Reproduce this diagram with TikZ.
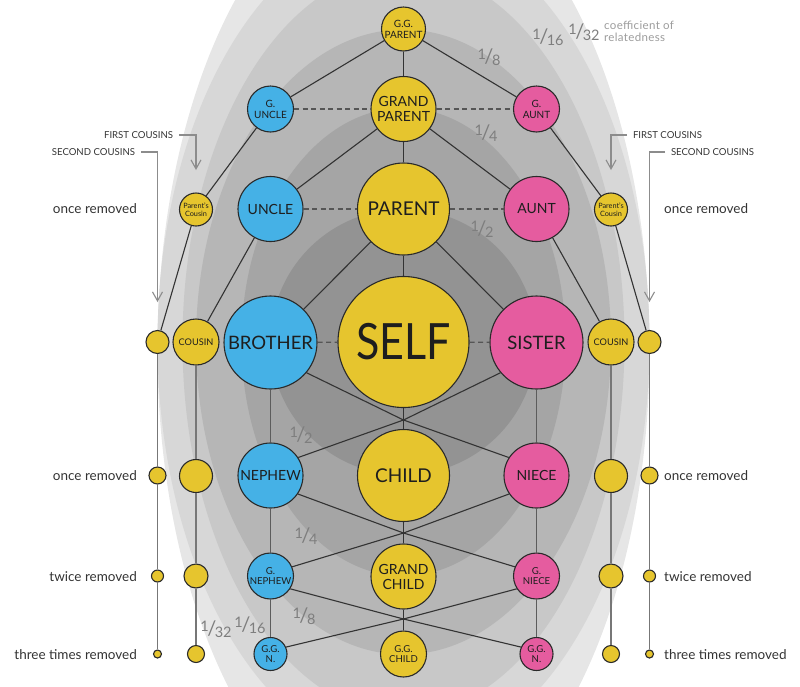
\documentclass[tikz,border=0pt]{standalone}
\usepackage{fontspec}
\setmainfont{Lato}
\usetikzlibrary{arrows.meta}
\definecolor{yel}{HTML}{E6C52E}
\definecolor{blu}{HTML}{45B1E6}
\definecolor{pnk}{HTML}{E55C9F}
\definecolor{cdark}{HTML}{2A2A2A}
\definecolor{ctext}{HTML}{1E1E1E}
\definecolor{cline}{HTML}{333333}
\definecolor{cvert}{HTML}{5C5C5C}
\definecolor{ccol}{HTML}{777777}
\definecolor{cdash}{HTML}{555555}
\definecolor{cann}{HTML}{8C8C8C}
\definecolor{cfrac}{HTML}{7E7E7E}
\definecolor{ccoef}{HTML}{9C9C9C}
\definecolor{bA}{HTML}{E6E6E6}
\definecolor{bB}{HTML}{D7D7D7}
\definecolor{bC}{HTML}{C8C8C8}
\definecolor{bD}{HTML}{B6B6B6}
\definecolor{bE}{HTML}{A5A5A5}
\definecolor{bF}{HTML}{939393}
\newcommand\fsz[2]{\fontsize{#1}{#2}\selectfont}
\newcommand\frc[2]{\raisebox{4pt}{#1}\kern-1.5pt{\fsz{20}{20}/}\kern-1.5pt\raisebox{-2.5pt}{#2}}
\begin{document}
\begin{tikzpicture}[x=1pt,y=-1pt,
  person/.style={circle, draw=cdark, line width=1.1pt, inner sep=0pt, text=ctext, align=center},
  Y/.style={person, fill=yel},
  B/.style={person, fill=blu},
  P/.style={person, fill=pnk},
  edge/.style={draw=cline, line width=1.1pt},
  vline/.style={draw=cvert, line width=1.5pt},
  colline/.style={draw=ccol, line width=1.8pt},
  dashln/.style={draw=cdash, line width=1.3pt, dash pattern=on 5pt off 3.5pt},
  annot/.style={draw=cann, line width=1.1pt},
  annlbl/.style={font=\fsz{9.6}{11}, text=cline, inner sep=0pt, outer sep=6pt},
  rmlbl/.style={font=\fsz{13.5}{15}, text=cline, inner sep=0pt},
  frac/.style={font=\fsz{14.5}{14.5}, text=cfrac, inner sep=0pt},
  coef/.style={font=\fsz{11.5}{11.5}\addfontfeatures{LetterSpace=3}, text=ccoef, inner sep=0pt, align=left}
]
\useasboundingbox (0,0) rectangle (800,686);
% bands (each boundary runs through the relatives of that coefficient)
\fill[bA] (403.5,350) ellipse [x radius=246, y radius=480];
\fill[bB] (403.5,342) ellipse [x radius=246, y radius=416];
\fill[bC] (403.5,342) ellipse [x radius=221, y radius=373];
\fill[bD] (403.5,342) ellipse [x radius=207.5, y radius=312.5];
\fill[bE] (403.5,342) ellipse [x radius=162, y radius=234];
\fill[bF] (403.5,342) circle [radius=133];

% nodes
\node[Y, minimum size=44pt, font=\fsz{10}{11}] (ggp) at (403.5,29) {G.G.\\PARENT};
\node[Y, minimum size=65pt, font=\fsz{14}{15}] (gp) at (403.5,109) {GRAND\\PARENT};
\node[B, minimum size=46pt, font=\fsz{10}{11}] (guncle) at (270.5,109) {G.\\UNCLE};
\node[P, minimum size=46pt, font=\fsz{10}{11}] (gaunt) at (536.5,109) {G.\\AUNT};
\node[Y, minimum size=92pt, font=\fsz{19}{20}] (parent) at (403.5,209) {PARENT};
\node[B, minimum size=65pt, font=\fsz{14}{15}] (uncle) at (270.5,209) {UNCLE};
\node[P, minimum size=65pt, font=\fsz{14}{15}] (aunt) at (536.5,209) {AUNT};
\node[Y, minimum size=33pt, font=\fsz{7.3}{8.4}] (pcL) at (196,209.5) {Parent's\\Cousin};
\node[Y, minimum size=33pt, font=\fsz{7.3}{8.4}] (pcR) at (611,209.5) {Parent's\\Cousin};
\node[Y, minimum size=131pt, font=\fsz{50}{52}] (self) at (403.5,342) {\scalebox{0.86}[1]{SELF}};
\node[B, minimum size=93pt, font=\fsz{18.5}{20}] (brother) at (270.5,342.5) {BROTHER};
\node[P, minimum size=93pt, font=\fsz{18.5}{20}] (sister) at (536.5,342.5) {SISTER};
\node[Y, minimum size=46pt, font=\fsz{9.2}{10}] (cousinL) at (196,342) {COUSIN};
\node[Y, minimum size=46pt, font=\fsz{9.2}{10}] (cousinR) at (611,342) {COUSIN};
\node[Y, minimum size=23pt] (scL) at (157.5,342) {};
\node[Y, minimum size=23pt] (scR) at (649.5,342) {};
\node[Y, minimum size=92pt, font=\fsz{19}{20}] (child) at (403.5,475.5) {CHILD};
\node[B, minimum size=65pt, font=\fsz{14}{15}] (nephew) at (270.5,475.5) {NEPHEW};
\node[P, minimum size=65pt, font=\fsz{14}{15}] (niece) at (536.5,475.5) {NIECE};
\node[Y, minimum size=33pt] (c1L) at (196,476) {};
\node[Y, minimum size=33pt] (c1R) at (611,476) {};
\node[Y, minimum size=17pt] (s1L) at (157.5,475.5) {};
\node[Y, minimum size=17pt] (s1R) at (649.5,475.5) {};
\node[Y, minimum size=65pt, font=\fsz{14}{15}] (gchild) at (403.5,576.5) {GRAND\\CHILD};
\node[B, minimum size=46pt, font=\fsz{9.6}{10.8}] (gnephew) at (270.5,576) {G.\\NEPHEW};
\node[P, minimum size=46pt, font=\fsz{9.6}{10.8}] (gniece) at (536.5,576) {G.\\NIECE};
\node[Y, minimum size=24pt] (c2L) at (196,576) {};
\node[Y, minimum size=24pt] (c2R) at (611,576) {};
\node[Y, minimum size=12pt] (s2L) at (157.5,576) {};
\node[Y, minimum size=12pt] (s2R) at (649.5,576) {};
\node[Y, minimum size=46pt, font=\fsz{9.6}{10.8}] (ggchild) at (403.5,654) {G.G.\\CHILD};
\node[B, minimum size=33pt, font=\fsz{9.6}{10.8}] (ggnL) at (270.5,654) {G.G.\\N.};
\node[P, minimum size=33pt, font=\fsz{9.6}{10.8}] (ggnR) at (536.5,654) {G.G.\\N.};
\node[Y, minimum size=17pt] (c3L) at (196,654) {};
\node[Y, minimum size=17pt] (c3R) at (611,654) {};
\node[Y, minimum size=8pt] (s3L) at (157.5,654) {};
\node[Y, minimum size=8pt] (s3R) at (649.5,654) {};

\coordinate (J1) at (403.5,420);
\coordinate (J2) at (403.5,533);
\coordinate (J3) at (403.5,619);

% centre line
\draw[edge] (ggp) -- (gp) -- (parent) -- (self) -- (J1) -- (child) -- (J2) -- (gchild) -- (J3) -- (ggchild);
% diagonals
\draw[edge] (ggp) -- (guncle);
\draw[edge] (ggp) -- (gaunt);
\draw[edge] (gp) -- (uncle);
\draw[edge] (gp) -- (aunt);
\draw[edge] (parent) -- (brother);
\draw[edge] (parent) -- (sister);
\draw[edge] (guncle) -- (pcL) -- (scL);
\draw[edge] (gaunt) -- (pcR) -- (scR);
\draw[edge] (uncle) -- (cousinL);
\draw[edge] (aunt) -- (cousinR);
\draw[edge] (brother.-40) -- (J1) -- (niece.147);
\draw[edge] (sister.-140) -- (J1) -- (nephew.33);
\draw[edge] (nephew.-34) -- (J2) -- (gniece.157);
\draw[edge] (niece.-146) -- (J2) -- (gnephew.23);
\draw[edge] (gnephew.-33) -- (J3) -- (ggnR.156);
\draw[edge] (gniece.-147) -- (J3) -- (ggnL.24);
% dashed
\draw[dashln] (guncle) -- (gp);
\draw[dashln] (gp) -- (gaunt);
\draw[dashln] (uncle) -- (parent);
\draw[dashln] (parent) -- (aunt);
\draw[dashln] (brother) -- (self);
\draw[dashln] (self) -- (sister);
% verticals
\draw[vline] (brother) -- (nephew) -- (gnephew) -- (ggnL);
\draw[vline] (sister) -- (niece) -- (gniece) -- (ggnR);
\draw[colline] (cousinL) -- (c1L) -- (c2L) -- (c3L);
\draw[colline] (scL) -- (s1L) -- (s2L) -- (s3L);
\draw[colline] (cousinR) -- (c1R) -- (c2R) -- (c3R);
\draw[colline] (scR) -- (s1R) -- (s2R) -- (s3R);

% annotations
\node[annlbl, anchor=east] (fcL) at (179,135) {FIRST COUSINS};
\node[annlbl, anchor=east] (scLl) at (141,152) {SECOND COUSINS};
\node[annlbl, anchor=west] (fcR) at (627,135) {FIRST COUSINS};
\node[annlbl, anchor=west] (scRl) at (665,152) {SECOND COUSINS};
\coordinate (fcLb) at (196,135); \coordinate (fcLe) at (196,170);
\coordinate (scLb) at (157.5,152); \coordinate (scLe) at (157.5,302);
\coordinate (fcRb) at (611,135); \coordinate (fcRe) at (611,170);
\coordinate (scRb) at (649.5,152); \coordinate (scRe) at (649.5,302);
\draw[annot, -{Straight Barb[length=9pt,width=10pt]}] (fcL.east) -- (fcLb) -- (fcLe);
\draw[annot, -{Straight Barb[length=9pt,width=10pt]}] (scLl.east) -- (scLb) -- (scLe);
\draw[annot, -{Straight Barb[length=9pt,width=10pt]}] (fcR.west) -- (fcRb) -- (fcRe);
\draw[annot, -{Straight Barb[length=9pt,width=10pt]}] (scRl.west) -- (scRb) -- (scRe);

\node[rmlbl, anchor=base east] (r0L) at (137,213) {once removed};
\node[rmlbl, anchor=base east] (r1L) at (137,480) {once removed};
\node[rmlbl, anchor=base east] (r2L) at (137,581) {twice removed};
\node[rmlbl, anchor=base east] (r3L) at (137,659) {three times removed};
\node[rmlbl, anchor=base west] (r0R) at (664,213) {once removed};
\node[rmlbl, anchor=base west] (r1R) at (664,480) {once removed};
\node[rmlbl, anchor=base west] (r2R) at (664,581) {twice removed};
\node[rmlbl, anchor=base west] (r3R) at (664,659) {three times removed};

% fractions
\node[frac] (fu2) at (482,229) {\frc{1}{2}};
\node[frac] (fu4) at (486,133) {\frc{1}{4}};
\node[frac] (fu8) at (489,57) {\frc{1}{8}};
\node[frac] (fu16) at (548,37) {\frc{1}{16}};
\node[frac] (fu32) at (584,32) {\frc{1}{32}};
\node[frac] (fl2) at (301,435) {\frc{1}{2}};
\node[frac] (fl4) at (306,536) {\frc{1}{4}};
\node[frac] (fl8) at (304,616) {\frc{1}{8}};
\node[frac] (fl16) at (250,625) {\frc{1}{16}};
\node[frac] (fl32) at (216,629) {\frc{1}{32}};
\node[coef, anchor=north west] (coef) at (604,21) {coefficient of\\relatedness};
\end{tikzpicture}
\end{document}
